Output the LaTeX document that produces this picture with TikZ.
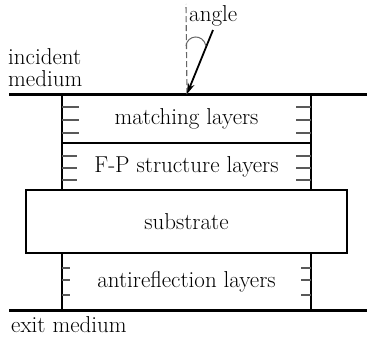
\documentclass[tikz,border=0pt]{standalone}
\usepackage{tikz}
\usetikzlibrary{arrows.meta}

\begin{document}
\begin{tikzpicture}[x=1pt, y=-1pt,
    every node/.style={font=\fontsize{23}{22}\selectfont},
    layer/.style={draw, line width=2.8pt, inner sep=0pt},
    medium/.style={line width=3pt},
    tick/.style={line width=1.3pt, black!65}]
  \useasboundingbox (0,0) rectangle (367,338);

  % the coating stack
  \node[layer, minimum width=249pt, minimum height=49pt] (match) at (186.5,118.5) {matching layers};
  \node[layer, minimum width=249pt, minimum height=47pt] (fp) at (186.5,166.5) {F-P structure layers};
  \node[layer, minimum width=321pt, minimum height=63pt] (sub) at (186.5,221.5) {substrate};
  \node[layer, minimum width=249pt, minimum height=57pt] (anti) at (186.5,281.5) {antireflection layers};

  % marks for the single films
  \foreach \y in {107,120,133} {
    \draw[tick] (62,\y) -- ++(17,0);
    \draw[tick] (311,\y) -- ++(-15,0);
  }
  \foreach \y in {156,168,180} {
    \draw[tick] (62,\y) -- ++(15,0);
    \draw[tick] (311,\y) -- ++(-15,0);
  }
  \foreach \y in {268,280,295} {
    \draw[tick] (62,\y) -- ++(8,0);
    \draw[tick] (311,\y) -- ++(-10,0);
  }

  % media boundaries
  \draw[medium] (9,94) -- (367,94);
  \draw[medium] (9,310) -- (367,310);
  \node[anchor=north west, inner sep=0pt, align=left] (inc) at (8,48) {incident\\medium};
  \node[anchor=base west, inner sep=0pt] (exit) at (11,332) {exit medium};

  % incoming ray and normal
  \coordinate (hit) at (187,94);
  \coordinate (src) at (213,30);
  \coordinate (nrm) at (186,4);
  \draw[black!60, line width=1.1pt, dash pattern=on 6pt off 3pt] (hit) -- (nrm);
  \draw[line width=1.8pt, -{Stealth[length=11pt, width=7pt]}] (src) -- (hit);
  \draw[black!60, line width=1pt] (186,46) .. controls (187,35) and (203,33) .. (206,46);
  \node[anchor=base west, inner sep=0pt] (ang) at (189,21) {angle};
\end{tikzpicture}
\end{document}
